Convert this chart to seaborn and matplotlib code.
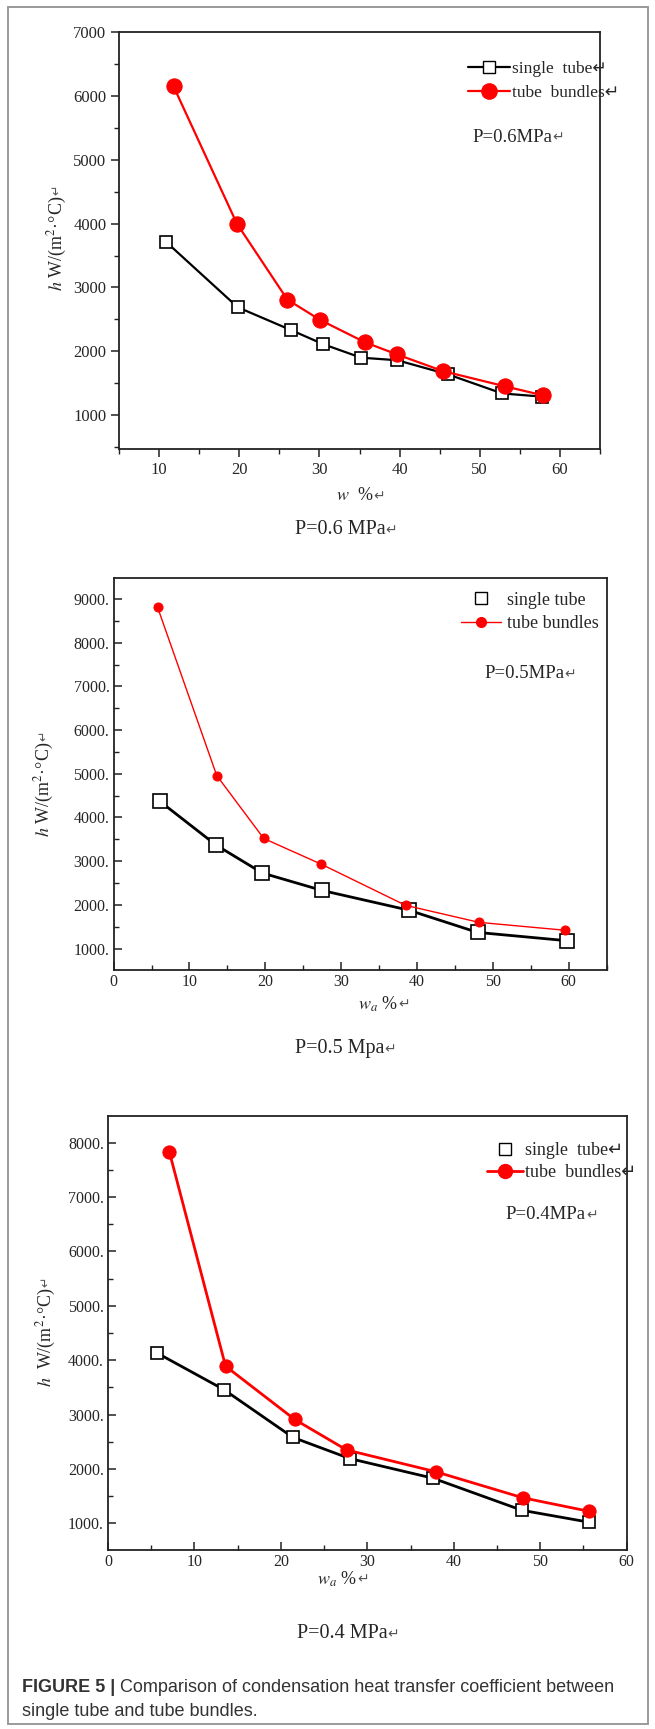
import matplotlib
matplotlib.use("Agg")
import matplotlib.pyplot as plt
from matplotlib.lines import Line2D
from matplotlib.patches import Rectangle
from matplotlib.ticker import MultipleLocator
import seaborn as sns

# ---------------------------------------------
# Data (w %, h W/(m2 C))
# ---------------------------------------------
p6_single_x = [10.9, 19.8, 26.5, 30.5, 35.2, 39.7, 46.0, 52.8, 57.8]
p6_single_h = [3710, 2690, 2330, 2110, 1900, 1860, 1640, 1340, 1290]
p6_bundle_x = [11.8, 19.7, 26.0, 30.1, 35.7, 39.7, 45.4, 53.2, 57.9]
p6_bundle_h = [6150, 4000, 2810, 2490, 2140, 1950, 1690, 1450, 1310]

p5_single_x = [6.1, 13.5, 19.6, 27.5, 38.9, 48.0, 59.8]
p5_single_h = [4370, 3370, 2730, 2330, 1880, 1370, 1180]
p5_bundle_x = [5.8, 13.6, 19.8, 27.4, 38.5, 48.2, 59.5]
p5_bundle_h = [8810, 4960, 3520, 2930, 1990, 1600, 1420]

p4_single_x = [5.7, 13.4, 21.4, 28.0, 37.6, 47.9, 55.7]
p4_single_h = [4130, 3460, 2580, 2190, 1830, 1240, 1020]
p4_bundle_x = [7.1, 13.6, 21.6, 27.6, 37.9, 48.0, 55.7]
p4_bundle_h = [7830, 3890, 2910, 2350, 1950, 1470, 1220]

p6_yticks = [1000, 2000, 3000, 4000, 5000, 6000, 7000]
p5_yticks = [1000, 2000, 3000, 4000, 5000, 6000, 7000, 8000, 9000]
p4_yticks = [1000, 2000, 3000, 4000, 5000, 6000, 7000, 8000]
p6_xticks = [10, 20, 30, 40, 50, 60]
p45_xticks = [0, 10, 20, 30, 40, 50, 60]

caption_bold = "FIGURE 5 |"
caption_rest = " Comparison of condensation heat transfer coefficient between"
caption_line2 = "single tube and tube bundles."

RET = "\u21b5"  # Word paragraph mark left in the original figure

sns.set_theme(style="white")
plt.rcParams["font.family"] = ["Liberation Serif", "DejaVu Sans"]
plt.rcParams["mathtext.fontset"] = "stix"

W, H = 655, 1729
fig = plt.figure(figsize=(W / 100, H / 100), dpi=100)
fig.patch.set_facecolor("white")


def px_axes(l, t, r, b):
    return fig.add_axes([l / W, 1 - b / H, (r - l) / W, (b - t) / H])


def ftext(x, y, s, **kw):
    return fig.text(x / W, 1 - y / H, s, **kw)


def add_return(ax, t, fs, vertical=False):
    # small return mark glued to the end of a text
    if vertical:
        ax.annotate(RET, xy=(0.5, 1.0), xycoords=t, ha="center", va="bottom",
                    rotation=90, fontsize=fs, color="#555555",
                    annotation_clip=False)
    else:
        ax.annotate(RET, xy=(1.0, 0.45), xycoords=t, ha="left", va="center",
                    fontsize=fs, color="#555555", annotation_clip=False)


def style_axes(ax, direction, fs):
    for sp in ax.spines.values():
        sp.set_linewidth(1.3)
        sp.set_color("#222222")
    ax.xaxis.set_minor_locator(MultipleLocator(5))
    ax.yaxis.set_minor_locator(MultipleLocator(500))
    ax.tick_params(which="major", direction=direction, length=6, width=1.1,
                   labelsize=fs, color="#222222", bottom=True, left=True,
                   top=False, right=False, pad=3)
    ax.tick_params(which="minor", direction=direction, length=3.5, width=1.0,
                   color="#222222", bottom=True, left=True, top=False, right=False)
    ax.set_xlabel("")
    ax.set_ylabel("")
    ax.grid(False)


# ---------------- Panel 1: P=0.6 MPa ----------------
ax1 = px_axes(119, 32, 600, 449)
sns.lineplot(x=p6_single_x, y=p6_single_h, ax=ax1, color="black", lw=1.6,
             marker="s", markersize=8, markerfacecolor="white",
             markeredgecolor="black", markeredgewidth=1.2, sort=False)
sns.lineplot(x=p6_bundle_x, y=p6_bundle_h, ax=ax1, color="#ff0000", lw=1.6,
             marker="o", markersize=11, markerfacecolor="#ff0000",
             markeredgecolor="#ff0000", sort=False)
ax1.set_xlim(5, 65)
ax1.set_ylim(470, 7000)
ax1.set_xticks(p6_xticks)
ax1.set_xticklabels([str(v) for v in p6_xticks])
ax1.set_yticks(p6_yticks)
ax1.set_yticklabels([str(v) for v in p6_yticks])
style_axes(ax1, "out", 12)
h1 = [Line2D([], [], color="black", lw=1.6, marker="s", markersize=8,
             markerfacecolor="white", markeredgecolor="black"),
      Line2D([], [], color="#ff0000", lw=1.6, marker="o", markersize=11,
             markerfacecolor="#ff0000", markeredgecolor="#ff0000")]
ax1.legend(h1, ["single  tube" + RET, "tube  bundles" + RET], loc="upper left",
           bbox_to_anchor=(0.726, 0.93), frameon=False, fontsize=12.5,
           handlelength=2.4, handletextpad=0.15, labelspacing=0.45,
           borderpad=0, borderaxespad=0)
t = ax1.text(0.734, 0.748, "P=0.6MPa", transform=ax1.transAxes,
             fontsize=13.5, va="center", ha="left")
add_return(ax1, t, 10)
t = ftext(57, 243, "$h$ W/(m$^{2}$·°C)", rotation=90, fontsize=13,
          ha="center", va="center")
add_return(ax1, t, 9, vertical=True)
t = ftext(355, 496, "$w$  %", fontsize=13, ha="center", va="center")
add_return(ax1, t, 10)
t = ftext(340, 530, "P=0.6 MPa", fontsize=14.5, ha="center", va="center")
add_return(ax1, t, 10)

# ---------------- Panel 2: P=0.5 MPa ----------------
ax2 = px_axes(113.6, 578, 606.5, 970)
sns.lineplot(x=p5_single_x, y=p5_single_h, ax=ax2, color="black", lw=2.0,
             marker="s", markersize=9.5, markerfacecolor="white",
             markeredgecolor="black", markeredgewidth=1.2, sort=False)
sns.lineplot(x=p5_bundle_x, y=p5_bundle_h, ax=ax2, color="#ff0000", lw=1.0,
             marker="o", markersize=6.5, markerfacecolor="#ff0000",
             markeredgecolor="#ff0000", sort=False)
ax2.set_xlim(0, 65)
ax2.set_ylim(510, 9480)
ax2.set_xticks(p45_xticks)
ax2.set_xticklabels([str(v) for v in p45_xticks])
ax2.set_yticks(p5_yticks)
ax2.set_yticklabels([f"{v}." for v in p5_yticks])
style_axes(ax2, "in", 11.5)
h2 = [Line2D([], [], color="black", lw=0, marker="s", markersize=9,
             markerfacecolor="white", markeredgecolor="black"),
      Line2D([], [], color="#ff0000", lw=1.0, marker="o", markersize=7,
             markerfacecolor="#ff0000", markeredgecolor="#ff0000")]
ax2.legend(h2, ["single tube", "tube bundles"], loc="upper left",
           bbox_to_anchor=(0.705, 0.965), frameon=False, fontsize=13,
           handlelength=2.2, handletextpad=0.35, labelspacing=0.35,
           borderpad=0, borderaxespad=0)
t = ax2.text(0.752, 0.756, "P=0.5MPa", transform=ax2.transAxes,
             fontsize=13.5, va="center", ha="left")
add_return(ax2, t, 10)
t = ftext(44, 789, "$h$ W/(m$^{2}$·°C)", rotation=90, fontsize=13,
          ha="center", va="center")
add_return(ax2, t, 9, vertical=True)
t = ftext(378, 1004, "$w_{a}$ %", fontsize=13, ha="center", va="center")
add_return(ax2, t, 10)
t = ftext(340, 1049, "P=0.5 Mpa", fontsize=14.5, ha="center", va="center")
add_return(ax2, t, 10)

# ---------------- Panel 3: P=0.4 MPa ----------------
ax3 = px_axes(108, 1116, 626.6, 1550)
sns.lineplot(x=p4_single_x, y=p4_single_h, ax=ax3, color="black", lw=2.0,
             marker="s", markersize=9, markerfacecolor="white",
             markeredgecolor="black", markeredgewidth=1.2, sort=False)
sns.lineplot(x=p4_bundle_x, y=p4_bundle_h, ax=ax3, color="#ff0000", lw=2.0,
             marker="o", markersize=9.5, markerfacecolor="#ff0000",
             markeredgecolor="#ff0000", sort=False)
ax3.set_xlim(0, 60)
ax3.set_ylim(510, 8490)
ax3.set_xticks(p45_xticks)
ax3.set_xticklabels([str(v) for v in p45_xticks])
ax3.set_yticks(p4_yticks)
ax3.set_yticklabels([f"{v}." for v in p4_yticks])
style_axes(ax3, "in", 11.5)
h3 = [Line2D([], [], color="black", lw=0, marker="s", markersize=9,
             markerfacecolor="white", markeredgecolor="black"),
      Line2D([], [], color="#ff0000", lw=2.0, marker="o", markersize=10,
             markerfacecolor="#ff0000", markeredgecolor="#ff0000")]
ax3.legend(h3, ["single  tube" + RET, "tube  bundles" + RET], loc="upper left",
           bbox_to_anchor=(0.731, 0.94), frameon=False, fontsize=13,
           handlelength=2.0, handletextpad=0.1, labelspacing=0.3,
           borderpad=0, borderaxespad=0)
t = ax3.text(0.767, 0.772, "P=0.4MPa", transform=ax3.transAxes,
             fontsize=13.5, va="center", ha="left")
add_return(ax3, t, 10)
t = ftext(46, 1337, "$h$  W/(m$^{2}$·°C)", rotation=90, fontsize=13,
          ha="center", va="center")
add_return(ax3, t, 9, vertical=True)
t = ftext(337, 1579, "$w_{a}$ %", fontsize=13, ha="center", va="center")
add_return(ax3, t, 10)
t = ftext(342, 1634, "P=0.4 MPa", fontsize=14.5, ha="center", va="center")
add_return(ax3, t, 10)

# ---------------- caption and outer frame ----------------
cap_kw = dict(family=["Liberation Sans", "DejaVu Sans"], fontsize=13,
              va="center", ha="left", color="#333333")
t_bold = ftext(22, 1687, caption_bold, fontweight="bold", **cap_kw)
fig.canvas.draw()
bb = t_bold.get_window_extent(renderer=fig.canvas.get_renderer())
ftext(22 + bb.width, 1687, caption_rest, **cap_kw)
ftext(22, 1712, caption_line2, **cap_kw)

fig.patches.append(Rectangle((7.5 / W, 1 - 1724 / H), 640 / W, 1717.5 / H,
                             transform=fig.transFigure, fill=False,
                             edgecolor="#9a9a9a", lw=1.4))

fig.savefig("out.png", dpi=100)
plt.close(fig)
